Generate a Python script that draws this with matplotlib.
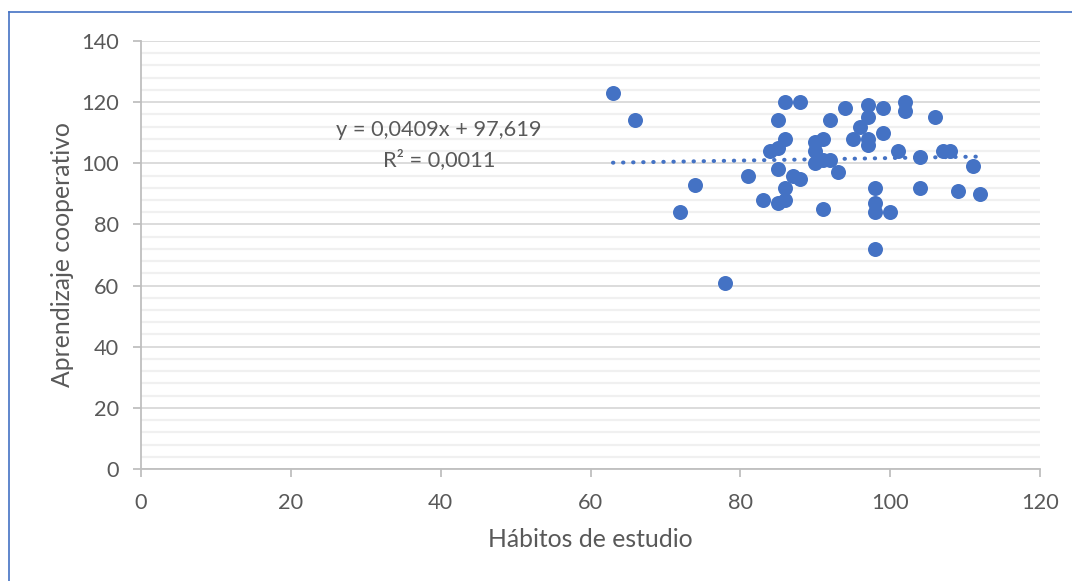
import matplotlib
matplotlib.use("Agg")
import matplotlib.pyplot as plt
from matplotlib.ticker import MultipleLocator
from matplotlib.lines import Line2D
import numpy as np

# Data
habitos = [63, 66, 72, 74, 78, 81, 83, 85, 86, 86, 85, 87, 88, 84, 85, 86, 85, 86, 88,
           94, 92, 97, 99, 102, 102, 106, 97, 96, 99, 95, 97, 97, 91, 90, 90, 90, 91, 92,
           93, 91, 98, 98, 98, 100, 98, 101, 104, 104, 107, 108, 109, 111, 112]
aprendizaje = [123, 114, 84, 93, 61, 96, 88, 87, 88, 92, 98, 96, 95, 104, 105, 108, 114, 120, 120,
               118, 114, 119, 118, 120, 117, 115, 115, 112, 110, 108, 108, 106, 108, 107, 104, 100, 101, 101,
               97, 85, 92, 87, 84, 84, 72, 104, 102, 92, 104, 104, 91, 99, 90]

# Trendline as given in the chart
slope = 0.0409
intercept = 97.619
r2 = 0.0011

blue = "#4472C4"
gray_txt = "#595959"
font = ["Lato", "DejaVu Sans"]
plt.rcParams["font.family"] = font

fig = plt.figure(figsize=(10.72, 5.81), dpi=100)
ax = fig.add_axes([141 / 1072, 1 - 469 / 581, (1040 - 141) / 1072, (469 - 41) / 581])

# Chart border (only left and top visible in the crop)
fig.add_artist(Line2D([8.5 / 1072, 8.5 / 1072], [0, 1 - 12 / 581], transform=fig.transFigure,
                      color=blue, lw=1.2))
fig.add_artist(Line2D([8.5 / 1072, 1.0], [1 - 12 / 581, 1 - 12 / 581], transform=fig.transFigure,
                      color=blue, lw=1.2))

# Points
ax.plot(habitos, aprendizaje, "o", color=blue, markersize=10.8, markeredgewidth=0, zorder=3)

# Trendline
xt = np.linspace(min(habitos), max(habitos), 50)
ax.plot(xt, slope * xt + intercept, color=blue, lw=2.9, linestyle=(0, (0.1, 2.4)),
        dash_capstyle="round", zorder=2)

eq = "y = " + f"{slope:.4f}".replace(".", ",") + "x + " + f"{intercept:.3f}".replace(".", ",")
r2_txt = "R² = " + f"{r2:.4f}".replace(".", ",")
ax.text(39.8, 110.8, eq, ha="center", va="center", fontsize=15.7, color=gray_txt)
ax.text(39.8, 101.3, r2_txt, ha="center", va="center", fontsize=15.7, color=gray_txt)

# Axes
ax.set_xlim(0, 120)
ax.set_ylim(0, 140)
ax.xaxis.set_major_locator(MultipleLocator(20))
ax.yaxis.set_major_locator(MultipleLocator(20))
ax.yaxis.set_minor_locator(MultipleLocator(4))
ax.grid(True, which="major", axis="y", color="#D9D9D9", lw=1.3)
ax.grid(True, which="minor", axis="y", color="#F0F0F0", lw=1.6)
ax.set_axisbelow(True)
for s in ["top", "right"]:
    ax.spines[s].set_visible(False)
for s in ["left", "bottom"]:
    ax.spines[s].set_color("#BFBFBF")
    ax.spines[s].set_linewidth(1.3)
ax.tick_params(axis="both", which="major", length=6, width=1.3, color="#BFBFBF",
               labelsize=15.7, labelcolor=gray_txt)
ax.tick_params(axis="y", which="major", pad=10)
ax.tick_params(axis="x", which="major", pad=11)
ax.tick_params(axis="y", which="minor", length=0)

ax.set_xlabel("Hábitos de estudio", fontsize=17.8, color=gray_txt, labelpad=11)
ax.set_ylabel("Aprendizaje cooperativo", fontsize=17.8, color=gray_txt, labelpad=5)

fig.savefig("out.png", dpi=100)
